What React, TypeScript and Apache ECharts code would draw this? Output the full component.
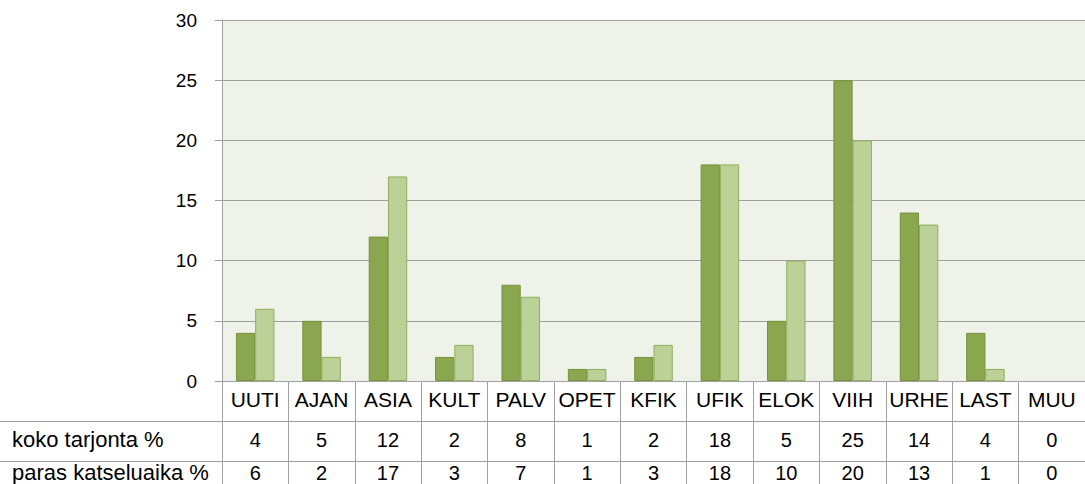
import React, { useEffect, useRef } from "react";
import * as echarts from "echarts";

const categories = ["UUTI", "AJAN", "ASIA", "KULT", "PALV", "OPET", "KFIK", "UFIK", "ELOK", "VIIH", "URHE", "LAST", "MUU"];
const kokoTarjonta = [4, 5, 12, 2, 8, 1, 2, 18, 5, 25, 14, 4, 0];
const parasKatseluaika = [6, 2, 17, 3, 7, 1, 3, 18, 10, 20, 13, 1, 0];
const rowLabels = ["koko tarjonta %", "paras katseluaika %"];
const yTicks = { min: 0, max: 30, interval: 5 };

const FONT = "Liberation Sans";
const GRAY = "#a0a0a0";

const barData = (values: number[]) => values.map((v) => (v === 0 ? "-" : v));

export default function App() {
  const ref = useRef<HTMLDivElement>(null);
  useEffect(() => {
    if (!ref.current) return;
    const chart = echarts.init(ref.current, null, { renderer: "svg" });
    const tableAxis = (offset: number, values: number[] | null, margin: number, fontSize: number) => ({
      type: "category",
      data: categories,
      position: "bottom",
      offset,
      axisLine: { show: true, lineStyle: { color: GRAY, width: 1 } },
      axisTick: { show: true, length: 40, interval: 0, lineStyle: { color: GRAY, width: 1 } },
      axisLabel: {
        interval: 0,
        margin,
        fontFamily: FONT,
        fontSize,
        color: "#000",
        formatter: values ? (_v: string, i: number) => String(values[i]) : undefined,
      },
      splitLine: { show: false },
    });
    chart.setOption({
      animation: false,
      backgroundColor: "#ffffff",
      textStyle: { fontFamily: FONT },
      grid: {
        left: 222,
        top: 20,
        width: 873,
        height: 361,
        show: true,
        backgroundColor: "#eff2e9",
        borderWidth: 0,
        containLabel: false,
      },
      xAxis: [
        tableAxis(0, null, 8, 21),
        tableAxis(40, kokoTarjonta, 9, 20),
        tableAxis(80, parasKatseluaika, 2, 20),
      ],
      yAxis: {
        type: "value",
        min: yTicks.min,
        max: yTicks.max,
        interval: yTicks.interval,
        axisLine: { show: true, lineStyle: { color: GRAY, width: 1 } },
        axisTick: { show: true, length: 7, lineStyle: { color: GRAY, width: 1 } },
        axisLabel: { margin: 25, fontFamily: FONT, fontSize: 19, color: "#000" },
        splitLine: { show: true, lineStyle: { color: GRAY, width: 1 } },
      },
      graphic: [
        { type: "line", shape: { x1: 0, y1: 421.5, x2: 222, y2: 421.5 }, style: { stroke: GRAY, lineWidth: 1 } },
        { type: "line", shape: { x1: 0, y1: 461.5, x2: 222, y2: 461.5 }, style: { stroke: GRAY, lineWidth: 1 } },
        { type: "text", left: 12, top: 428, style: { text: rowLabels[0], fontFamily: FONT, fontSize: 22, fill: "#000" } },
        { type: "text", left: 12, top: 461, style: { text: rowLabels[1], fontFamily: FONT, fontSize: 22, fill: "#000" } },
      ],
      series: [
        {
          name: rowLabels[0],
          type: "bar",
          xAxisIndex: 0,
          data: barData(kokoTarjonta),
          barGap: "0%",
          barCategoryGap: "42%",
          itemStyle: { color: "#8aa64e", borderColor: "#76923c", borderWidth: 1 },
        },
        {
          name: rowLabels[1],
          type: "bar",
          xAxisIndex: 0,
          data: barData(parasKatseluaika),
          barGap: "0%",
          barCategoryGap: "42%",
          itemStyle: { color: "#bbd197", borderColor: "#8fae5e", borderWidth: 1 },
        },
      ],
    });
    return () => chart.dispose();
  }, []);
  return <div ref={ref} style={{ position: "fixed", left: 0, top: 0, width: 1085, height: 484 }} />;
}
